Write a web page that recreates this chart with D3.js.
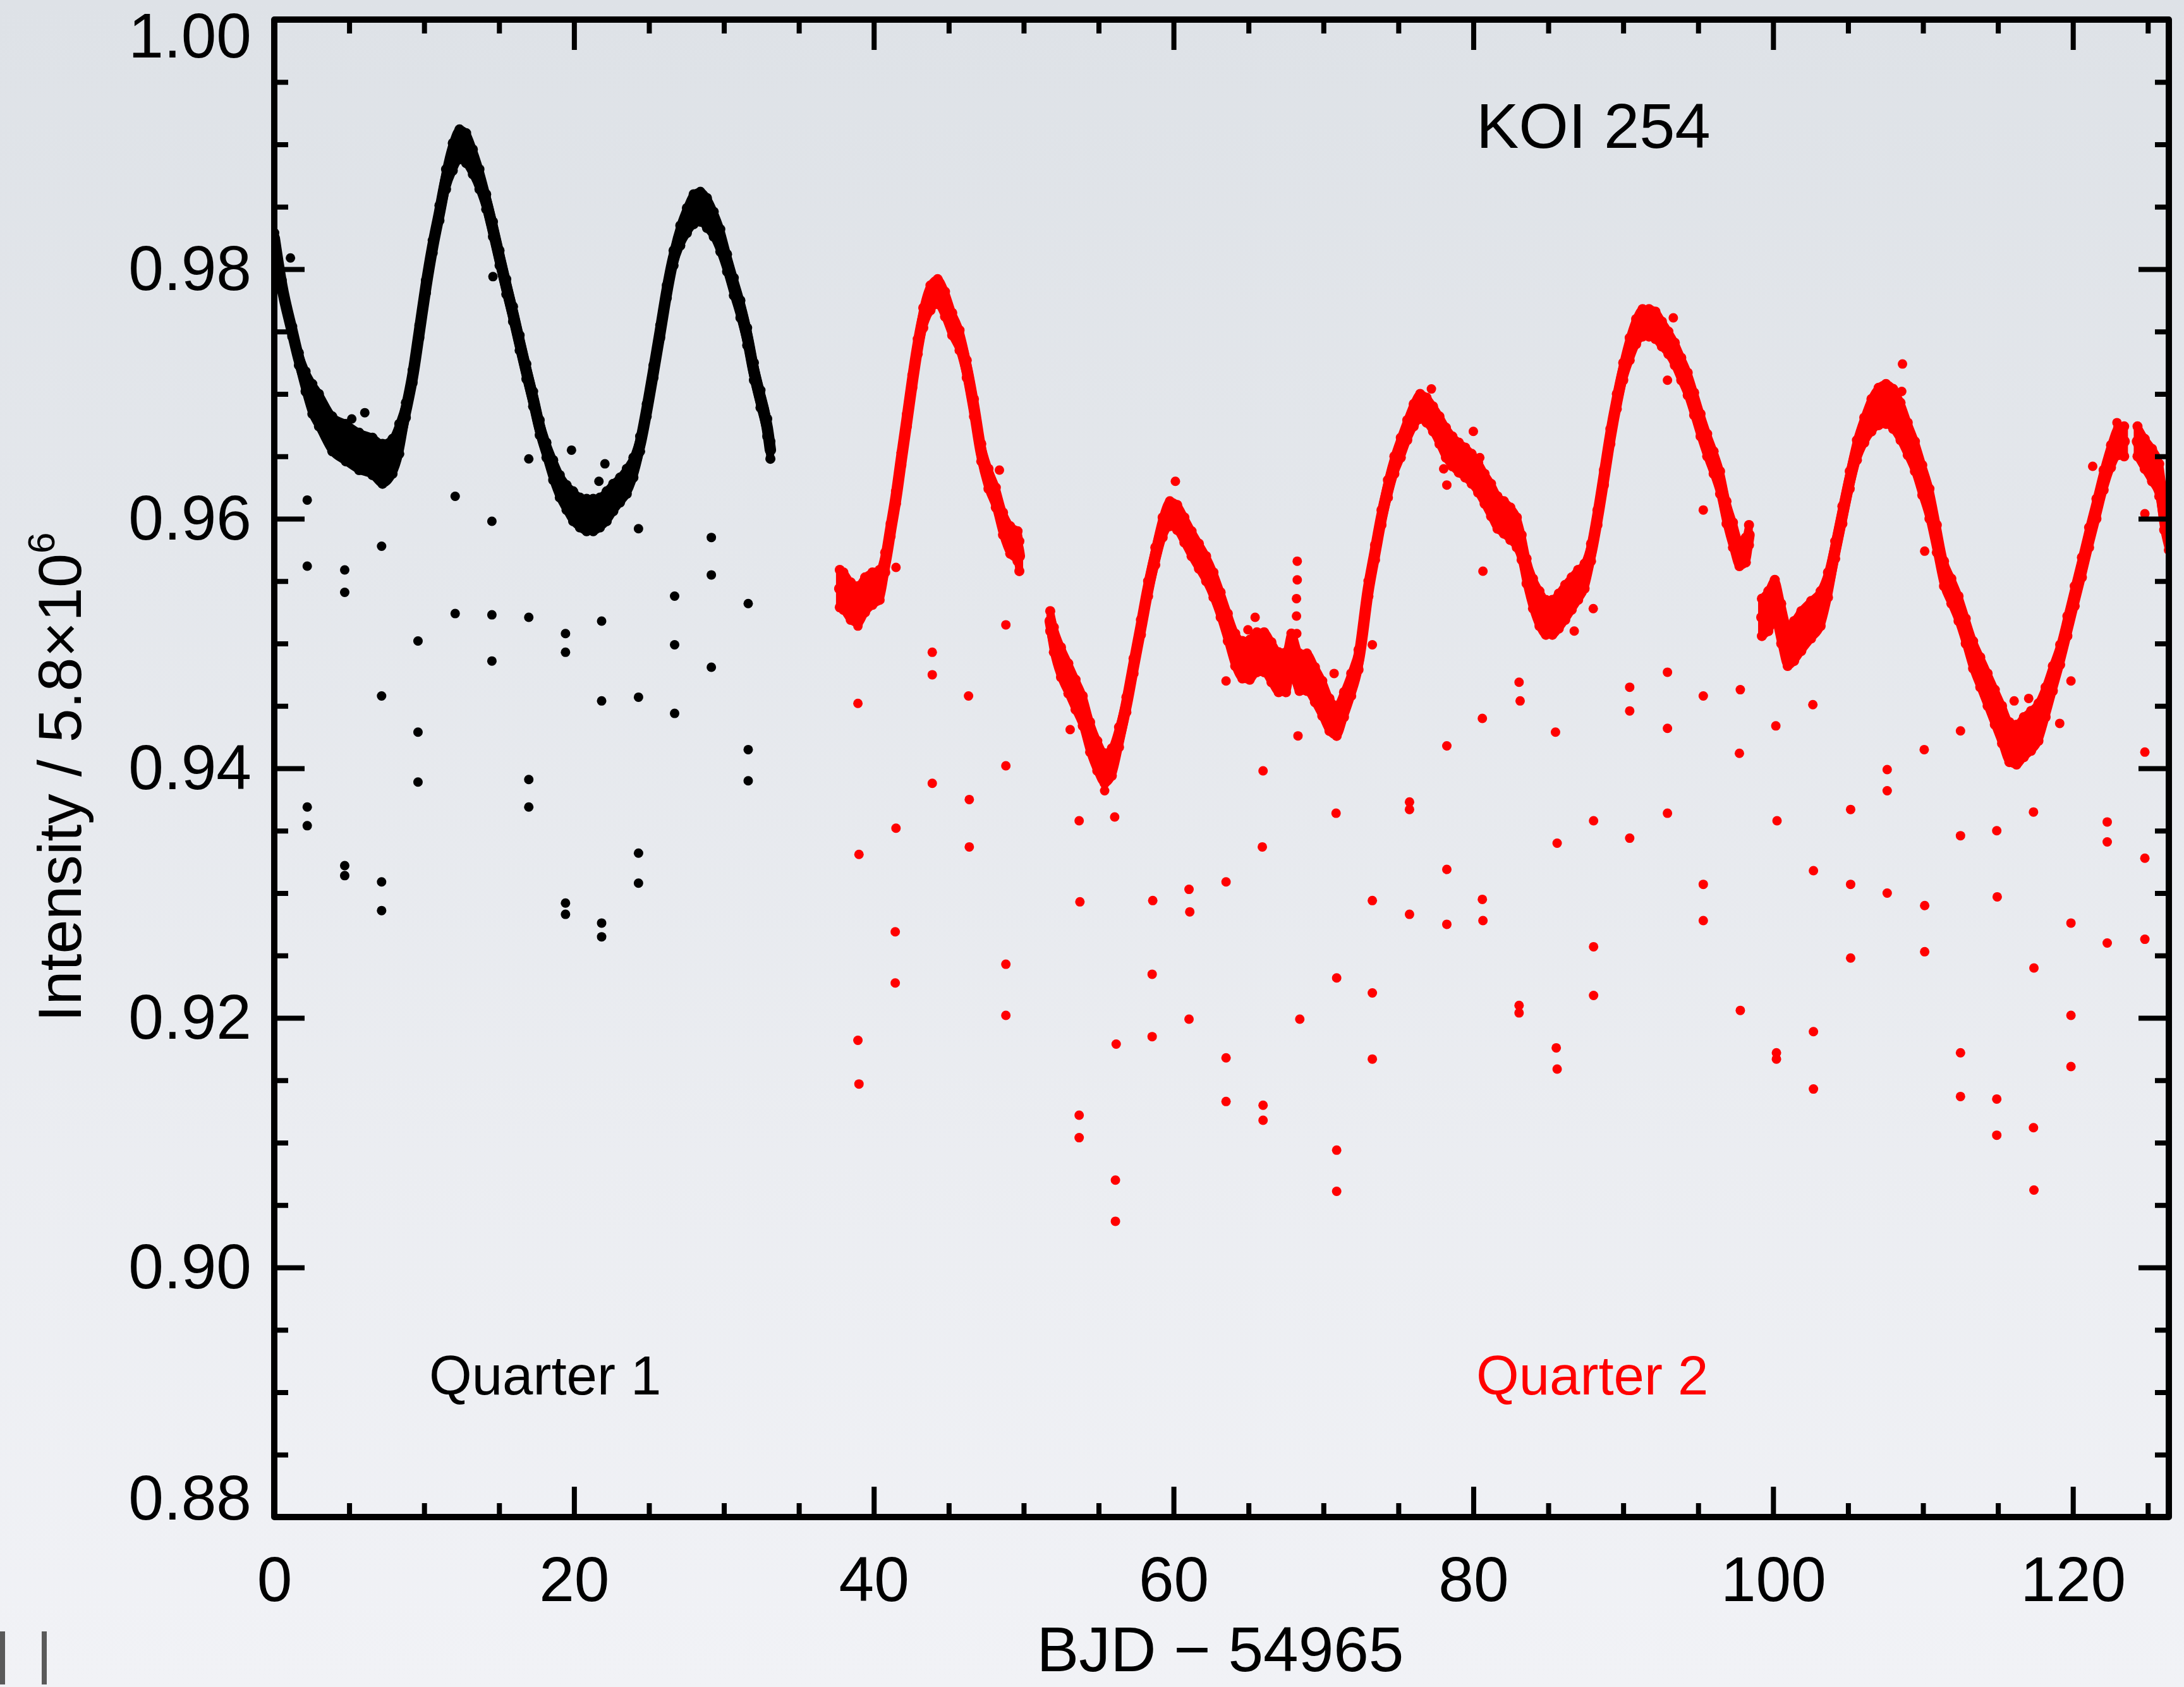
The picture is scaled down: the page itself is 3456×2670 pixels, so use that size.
<!DOCTYPE html>
<html>
<head>
<meta charset="utf-8">
<script src="https://cdn.jsdelivr.net/npm/d3@7"></script>
<style>
  html, body { margin: 0; padding: 0; background: #e8eaee; }
  svg { display: block; }
</style>
</head>
<body>
<svg id="chart" width="3456" height="2670"></svg>
<script>
// ---- Kepler KOI 254 light curve, Quarters 1 and 2 ----

// Quarter 1: band centre, half-width of the point cloud (flux units)
const q1Time = [0.0, 0.5, 1.2, 1.64, 2.09, 2.54, 2.98, 3.87, 4.77, 5.66, 6.55, 7.22, 7.89, 8.34, 8.78,
  9.23, 9.68, 10.12, 10.57, 11.02, 11.46, 11.91, 12.36, 12.8, 13.25, 13.69, 14.14, 14.59, 15.03, 15.48,
  15.93, 16.37, 16.82, 17.27, 17.71, 18.16, 18.61, 19.05, 19.5, 19.94, 20.39, 20.84, 21.28, 21.73, 22.18,
  22.62, 23.07, 23.52, 23.96, 24.41, 24.85, 25.3, 25.75, 26.19, 26.64, 27.09, 27.53, 27.98, 28.43, 28.87,
  29.32, 29.76, 30.21, 30.66, 31.1, 31.55, 32.0, 32.44, 32.89, 33.1];
const q1Flux = [0.9825, 0.9787, 0.975, 0.9728, 0.971, 0.9696, 0.9687, 0.9668, 0.9661, 0.9654, 0.965, 0.9644, 0.965, 0.9664, 0.9687,
  0.9714, 0.975, 0.9786, 0.9818, 0.9845, 0.9872, 0.989, 0.99, 0.9897, 0.9886, 0.9872, 0.9854, 0.9832, 0.9809, 0.9786,
  0.9764, 0.9741, 0.9718, 0.9696, 0.9673, 0.9655, 0.9639, 0.9626, 0.9617, 0.961, 0.9605, 0.9603, 0.9603, 0.9605, 0.961,
  0.9617, 0.9623, 0.963, 0.9641, 0.966, 0.9687, 0.9718, 0.975, 0.9782, 0.9809, 0.9827, 0.9839, 0.9848, 0.985, 0.9845,
  0.9836, 0.9823, 0.9805, 0.9786, 0.9768, 0.9746, 0.9718, 0.9696, 0.9673, 0.9655];
const q1Spread = [0.0004, 0.0004, 0.0004, 0.0005, 0.0008, 0.0012, 0.0013, 0.0014, 0.0015, 0.0015, 0.0015, 0.0016, 0.0014, 0.0012, 0.0006,
  0.0005, 0.0005, 0.0005, 0.0005, 0.0006, 0.0008, 0.0011, 0.0012, 0.0012, 0.0010, 0.0008, 0.0006, 0.0006, 0.0006, 0.0006,
  0.0006, 0.0006, 0.0006, 0.0006, 0.0006, 0.0006, 0.0008, 0.0009, 0.0010, 0.0012, 0.0012, 0.0013, 0.0013, 0.0012, 0.0012,
  0.0011, 0.0010, 0.0010, 0.0008, 0.0006, 0.0005, 0.0005, 0.0005, 0.0005, 0.0006, 0.0008, 0.0010, 0.0012, 0.0012, 0.0012,
  0.0010, 0.0009, 0.0007, 0.0007, 0.0007, 0.0007, 0.0007, 0.0007, 0.0007, 0.0007];

// Quarter 1 isolated low points
const q1OutTime = [2.2, 2.2, 2.2, 2.2, 5.17, 6.04, 4.7, 4.7, 4.7, 4.7, 7.16, 7.16, 7.16, 7.16, 9.59, 9.59, 9.59,
  12.07, 12.07, 14.59, 14.52, 14.52, 14.52, 16.98, 16.98, 16.98, 16.98, 19.43, 19.43, 19.43, 19.43, 19.83,
  21.84, 21.84, 21.84, 21.84, 22.06, 21.66, 24.3, 24.3, 24.3, 24.3, 26.71, 26.71, 26.71, 29.16, 29.16, 29.16,
  31.62, 31.62, 31.62, 1.08];
const q1OutFlux = [0.9615, 0.9562, 0.9369, 0.9354, 0.968, 0.9685, 0.9559, 0.9541, 0.9322, 0.9314, 0.9578, 0.9458, 0.9309, 0.9286, 0.9502, 0.9429, 0.9389,
  0.9618, 0.9524, 0.9794, 0.9598, 0.9523, 0.9486, 0.9648, 0.9521, 0.9391, 0.9369, 0.9508, 0.9493, 0.9292, 0.9283, 0.9655,
  0.9518, 0.9454, 0.9276, 0.9265, 0.9644, 0.963, 0.9592, 0.9457, 0.9332, 0.9308, 0.9538, 0.9499, 0.9444, 0.9585, 0.9555, 0.9481,
  0.9532, 0.9415, 0.939, 0.9809];

// Quarter 2: null entries mark data gaps
const q2Time = [37.73, 37.97, 38.46, 38.94, 39.42, 39.91, 40.39, 40.76, 41.12, 41.48, 41.84, 42.21, 42.57, 42.93, 43.3,
  43.78, 44.26, 44.75, 45.23, 45.72, 46.2, 46.68, 47.17, 47.65, 48.14, 48.62, 49.1, 49.59, 49.71, null,
  51.77, 52.01, 52.49, 52.98, 53.46, 53.94, 54.43, 54.91, 55.4, 55.88, 56.36, 56.85, 57.33, 57.82, 58.3,
  58.78, 59.27, 59.75, 60.24, 60.72, 61.2, 61.69, 62.17, 62.66, 63.14, 63.62, 64.11, 64.59, 65.08, 65.56,
  66.04, 66.53, 67.01, 67.5, 67.86, 68.4, 68.9, 69.43, 69.92, 70.4, 70.88, 71.37, 71.85, 72.34, 73.0,
  73.44, 73.87, 74.3, 74.73, 75.16, 75.59, 76.02, 76.45, 76.88, 77.31, 77.74, 78.17, 78.6, 79.03, 79.46,
  79.89, 80.32, 80.75, 81.18, 81.61, 82.04, 82.47, 82.9, 83.22, 83.55, 83.98, 84.41, 84.84, 85.27, 85.7,
  86.13, 86.56, 86.99, 87.42, 87.85, 88.28, 88.71, 89.14, 89.57, 90.0, 90.43, 90.86, 91.29, 91.72, 92.15,
  92.58, 93.01, 93.44, 93.87, 94.3, 94.73, 95.16, 95.6, 96.03, 96.46, 96.89, 97.32, 97.75, 98.18, 98.39, null,
  99.25, 99.68, 100.11, 100.54, 100.97, 101.4, 101.88, 102.53, 103.17, 103.66, 104.14, 104.62, 105.11, 105.59, 106.08,
  106.56, 107.04, 107.53, 108.01, 108.5, 108.98, 109.46, 109.95, 110.43, 110.92, 111.4, 111.89, 112.37, 112.85, 113.34,
  113.82, 114.31, 114.79, 115.27, 115.76, 116.24, 116.73, 117.21, 117.7, 118.18, 118.66, 119.15, 119.63, 120.12, 120.6,
  121.08, 121.57, 122.05, 122.54, 123.02, 123.42, null,
  124.31, 124.79, 125.28, 125.76, 126.09, 126.4];
const q2Flux = [0.9544, 0.9542, 0.9534, 0.9531, 0.9539, 0.9544, 0.9547, 0.9565, 0.9591, 0.9617, 0.9648, 0.9679, 0.971, 0.9738, 0.9761,
  0.9777, 0.9782, 0.9772, 0.9756, 0.9743, 0.972, 0.9689, 0.9653, 0.9632, 0.9617, 0.9596, 0.9583, 0.9578, 0.957, null,
  0.9518, 0.9503, 0.9485, 0.9472, 0.9459, 0.9446, 0.9425, 0.941, 0.94, 0.9405, 0.9425, 0.9451, 0.9482, 0.9513, 0.9544,
  0.957, 0.9593, 0.9604, 0.9601, 0.9591, 0.958, 0.957, 0.956, 0.9547, 0.9531, 0.9513, 0.9495, 0.9487, 0.9487, 0.9493,
  0.9493, 0.9485, 0.9477, 0.9477, 0.9493, 0.9477, 0.9477, 0.9467, 0.9456, 0.9443, 0.9438, 0.9451, 0.9467, 0.9487, 0.9544,
  0.9573, 0.9601, 0.9624, 0.9643, 0.9657, 0.9671, 0.9683, 0.969, 0.9687, 0.968, 0.9671, 0.9661, 0.9654, 0.9649, 0.9645,
  0.964, 0.9633, 0.9624, 0.9615, 0.9605, 0.9601, 0.9596, 0.9589, 0.9577, 0.9558, 0.954, 0.9528, 0.9521, 0.9521, 0.9526,
  0.9533, 0.954, 0.9547, 0.9554, 0.9573, 0.9601, 0.9633, 0.9666, 0.9694, 0.9718, 0.9736, 0.975, 0.9757, 0.9757, 0.9755,
  0.9748, 0.9741, 0.9732, 0.972, 0.9708, 0.9692, 0.9675, 0.9659, 0.9645, 0.9629, 0.9605, 0.9587, 0.9572, 0.9575, 0.9587, null,
  0.9521, 0.9526, 0.9535, 0.9516, 0.9498, 0.9502, 0.951, 0.9519, 0.9528, 0.9547, 0.9575, 0.9603, 0.9631, 0.9655, 0.9671,
  0.9683, 0.969, 0.9692, 0.9688, 0.9678, 0.9664, 0.965, 0.9631, 0.9612, 0.9584, 0.9556, 0.9542, 0.9528, 0.951, 0.9491,
  0.9477, 0.9463, 0.9449, 0.9435, 0.9421, 0.9419, 0.9425, 0.943, 0.9437, 0.9453, 0.9472, 0.9491, 0.9514, 0.9538, 0.9561,
  0.9585, 0.9608, 0.9631, 0.965, 0.9662, 0.9662, null,
  0.9662, 0.9652, 0.9643, 0.9631, 0.9603, 0.9585];
const q2Spread = [0.0015, 0.0015, 0.0015, 0.0015, 0.0014, 0.0013, 0.0012, 0.0008, 0.0005, 0.0005, 0.0005, 0.0005, 0.0005, 0.0006, 0.0008,
  0.0010, 0.0010, 0.0010, 0.0009, 0.0008, 0.0007, 0.0007, 0.0007, 0.0008, 0.0008, 0.0009, 0.0011, 0.0012, 0.0012, null,
  0.0008, 0.0010, 0.0012, 0.0012, 0.0012, 0.0012, 0.0012, 0.0012, 0.0012, 0.0011, 0.0008, 0.0006, 0.0006, 0.0006, 0.0006,
  0.0007, 0.0008, 0.0010, 0.0010, 0.0010, 0.0010, 0.0010, 0.0010, 0.0010, 0.0010, 0.0011, 0.0013, 0.0015, 0.0016, 0.0016,
  0.0016, 0.0016, 0.0016, 0.0016, 0.0015, 0.0015, 0.0015, 0.0014, 0.0014, 0.0013, 0.0012, 0.0010, 0.0009, 0.0008, 0.0006,
  0.0006, 0.0006, 0.0007, 0.0007, 0.0008, 0.0008, 0.0009, 0.0010, 0.0010, 0.0010, 0.0011, 0.0012, 0.0012, 0.0012, 0.0012,
  0.0012, 0.0012, 0.0012, 0.0013, 0.0013, 0.0013, 0.0013, 0.0012, 0.0010, 0.0010, 0.0012, 0.0014, 0.0014, 0.0014, 0.0014,
  0.0014, 0.0013, 0.0012, 0.0010, 0.0007, 0.0006, 0.0006, 0.0006, 0.0006, 0.0007, 0.0009, 0.0010, 0.0011, 0.0011, 0.0011,
  0.0010, 0.0009, 0.0009, 0.0009, 0.0009, 0.0009, 0.0009, 0.0009, 0.0009, 0.0009, 0.0009, 0.0010, 0.0010, 0.0010, 0.0008, null,
  0.0015, 0.0016, 0.0016, 0.0016, 0.0016, 0.0016, 0.0016, 0.0015, 0.0014, 0.0010, 0.0007, 0.0007, 0.0007, 0.0008, 0.0010,
  0.0013, 0.0015, 0.0016, 0.0016, 0.0015, 0.0013, 0.0012, 0.0012, 0.0012, 0.0011, 0.0010, 0.0010, 0.0010, 0.0010, 0.0011,
  0.0012, 0.0013, 0.0014, 0.0015, 0.0016, 0.0016, 0.0016, 0.0016, 0.0015, 0.0012, 0.0010, 0.0008, 0.0008, 0.0008, 0.0008,
  0.0008, 0.0008, 0.0008, 0.0009, 0.0011, 0.0012, null,
  0.0012, 0.0012, 0.0013, 0.0013, 0.0012, 0.0010];

// Quarter 2 isolated low points
const q2OutTime = [38.94, 38.94, 39.01, 38.94, 39.01, 41.48, 41.48, 41.43, 41.43, 43.9, 43.9, 43.9, 46.32, 46.37, 46.37,
  48.38, 48.81, 48.81, 48.81, 48.81, 53.1, 53.7, 53.75, 53.7, 53.7, 55.4, 56.07, 56.17, 56.12, 56.12,
  60.12, 58.61, 58.57, 58.57, 61.03, 61.08, 61.03, 63.5, 63.5, 63.5, 63.5, 64.96, 65.44, 65.97, 65.92, 65.97, 65.97,
  68.25, 68.25, 68.2, 68.2, 68.22, 68.3, 68.42, 70.71, 70.84, 70.88, 70.88, 70.88, 73.26, 73.26, 73.26, 73.26,
  75.74, 75.74, 75.74, 77.2, 78.02, 78.23, 80.0, 80.43, 80.64, 78.23, 78.23, 78.23, 80.6, 80.6, 80.64,
  83.05, 83.12, 83.05, 83.05, 85.48, 85.59, 85.53, 85.59, 86.73, 88.0, 88.02, 88.02, 88.02,
  90.43, 90.43, 90.43, 92.95, 92.95, 92.95, 92.95, 93.34, 95.34, 95.34, 95.34, 95.34, 97.81, 97.75, 97.81,
  100.18, 100.26, 100.22, 100.22, 102.65, 102.69, 102.69, 102.69, 105.17, 105.17, 105.17,
  107.61, 107.61, 107.61, 108.63, 108.58, 110.11, 110.08, 110.11, 110.11, 112.5, 112.5, 112.5, 112.5,
  114.92, 114.95, 114.92, 114.92, 116.08, 117.05, 117.37, 117.4, 117.37, 117.4,
  119.12, 119.87, 119.87, 119.87, 119.87, 121.32, 122.29, 122.29, 122.29, 122.94, 124.8, 124.8, 124.8, 124.8];
const q2OutFlux = [0.9514, 0.9452, 0.9331, 0.9182, 0.9147, 0.9561, 0.9352, 0.9269, 0.9228, 0.9493, 0.9475, 0.9388, 0.9458, 0.9375, 0.9337,
  0.9639, 0.9515, 0.9402, 0.9243, 0.9202, 0.9431, 0.9358, 0.9293, 0.9122, 0.9104, 0.9382, 0.9361, 0.9179, 0.907, 0.9037,
  0.963, 0.9294, 0.9235, 0.9185, 0.9303, 0.9285, 0.9199, 0.947, 0.9309, 0.9168, 0.9133, 0.9511, 0.9521, 0.9398, 0.9337, 0.913, 0.9118,
  0.9566, 0.9551, 0.9536, 0.9522, 0.9508, 0.9426, 0.9199, 0.9476, 0.9364, 0.9232, 0.9094, 0.9061, 0.9499, 0.9294, 0.922, 0.9167,
  0.9373, 0.9367, 0.9283, 0.9704, 0.964, 0.9627, 0.967, 0.9649, 0.9558, 0.9418, 0.9319, 0.9275, 0.944, 0.9295, 0.9278,
  0.9469, 0.9454, 0.921, 0.9204, 0.9429, 0.934, 0.9176, 0.9159, 0.951, 0.9528, 0.9358, 0.9257, 0.9218,
  0.9465, 0.9446, 0.9344, 0.9477, 0.9432, 0.9364, 0.9711, 0.9761, 0.9607, 0.9458, 0.9307, 0.9278, 0.9463, 0.9412, 0.9206,
  0.9434, 0.9358, 0.9172, 0.9167, 0.9451, 0.9318, 0.9189, 0.9143, 0.9367, 0.9307, 0.9248,
  0.9399, 0.9382, 0.93, 0.9724, 0.9702, 0.9574, 0.9415, 0.929, 0.9253, 0.943, 0.9346, 0.9172, 0.9137,
  0.935, 0.9297, 0.9135, 0.9106, 0.9454, 0.9456, 0.9365, 0.924, 0.9112, 0.9062,
  0.9436, 0.947, 0.9276, 0.9202, 0.9161, 0.9642, 0.9357, 0.9341, 0.926, 0.9677, 0.9604, 0.9413, 0.9328, 0.9263];

// Axis ticks and annotations
const xDomain = [0, 126.4];
const yDomain = [0.88, 1.0];
const xMajorTicks = [0, 20, 40, 60, 80, 100, 120];
const yMajorTicks = [0.88, 0.90, 0.92, 0.94, 0.96, 0.98, 1.00];
const xLabel = "BJD \u2212 54965";
const yLabel = "Intensity / 5.8\u00d710";
const yLabelExp = "6";
const starName = "KOI 254";
const quarterNames = ["Quarter 1", "Quarter 2"];
const seriesColors = ["#000000", "#ff0000"];

// ---- layout ----
const W = 3456, H = 2670;
const plot = { left: 434, right: 3432, top: 31, bottom: 2401 };
const FONT = "'Liberation Sans', Arial, Helvetica, sans-serif";

const svg = d3.select("#chart");
const defs = svg.append("defs");

const bg = defs.append("linearGradient").attr("id", "bg")
  .attr("x1", 0).attr("y1", 0).attr("x2", 0).attr("y2", 1);
bg.append("stop").attr("offset", 0).attr("stop-color", "#dee2e7");
bg.append("stop").attr("offset", 1).attr("stop-color", "#f1f2f6");
svg.append("rect").attr("width", W).attr("height", H).attr("fill", "url(#bg)");

defs.append("clipPath").attr("id", "plotClip").append("rect")
  .attr("x", plot.left).attr("y", plot.top)
  .attr("width", plot.right - plot.left).attr("height", plot.bottom - plot.top);

const x = d3.scaleLinear().domain(xDomain).range([plot.left, plot.right]);
const y = d3.scaleLinear().domain(yDomain).range([plot.bottom, plot.top]);

const dataLayer = svg.append("g").attr("clip-path", "url(#plotClip)");

function drawBand(T, F, S, color) {
  const rows = T.map((t, i) => t == null ? null : { t, v: F[i], s: S[i] });
  const g = dataLayer.append("g");
  const area = d3.area().defined(d => d)
    .x(d => x(d.t)).y0(d => y(d.v - d.s)).y1(d => y(d.v + d.s))
    .curve(d3.curveMonotoneX);
  const line = d3.line().defined(d => d)
    .x(d => x(d.t)).y(d => y(d.v))
    .curve(d3.curveMonotoneX);
  g.append("path").attr("d", area(rows))
    .attr("fill", color).attr("stroke", color)
    .attr("stroke-width", 12).attr("stroke-linejoin", "round");
  g.append("path").attr("d", line(rows))
    .attr("fill", "none").attr("stroke", color)
    .attr("stroke-width", 18).attr("stroke-linejoin", "round").attr("stroke-linecap", "round");
  const pts = rows.filter(d => d);
  g.selectAll("circle.hi").data(pts).join("circle").attr("class", "hi")
    .attr("cx", d => x(d.t)).attr("cy", d => y(d.v + d.s)).attr("r", 8).attr("fill", color);
  g.selectAll("circle.lo").data(pts).join("circle").attr("class", "lo")
    .attr("cx", d => x(d.t)).attr("cy", d => y(d.v - d.s)).attr("r", 8).attr("fill", color);
}

function drawPoints(T, F, color) {
  dataLayer.append("g").selectAll("circle").data(T.map((t, i) => ({ t, v: F[i] })))
    .join("circle")
    .attr("cx", d => x(d.t)).attr("cy", d => y(d.v))
    .attr("r", 7.5).attr("fill", color);
}

drawBand(q1Time, q1Flux, q1Spread, seriesColors[0]);
drawPoints(q1OutTime, q1OutFlux, seriesColors[0]);
drawBand(q2Time, q2Flux, q2Spread, seriesColors[1]);
drawPoints(q2OutTime, q2OutFlux, seriesColors[1]);

// ---- axes: ticks point inward on all four sides ----
const xMinorTicks = d3.range(0, 126.4, 5).filter(v => v % 20 !== 0);
const yMinorTicks = d3.range(0, 25).map(i => +(0.88 + i * 0.005).toFixed(3))
  .filter(v => !yMajorTicks.some(m => Math.abs(m - v) < 1e-9));

const MAJOR = 48, MINOR = 22;

function styleAxis(g) {
  g.select(".domain").remove();
  g.selectAll(".tick line").attr("stroke", "#000").attr("stroke-width", 8);
  g.selectAll(".tick text").attr("font-family", FONT).attr("font-size", 100).attr("fill", "#000");
}

// bottom
svg.append("g").attr("transform", `translate(0,${plot.bottom})`)
  .call(d3.axisBottom(x).tickValues(xMajorTicks).tickSize(-MAJOR).tickPadding(62).tickFormat(d3.format("d")))
  .call(styleAxis);
svg.append("g").attr("transform", `translate(0,${plot.bottom})`)
  .call(d3.axisBottom(x).tickValues(xMinorTicks).tickSize(-MINOR).tickFormat(""))
  .call(styleAxis);
// top
svg.append("g").attr("transform", `translate(0,${plot.top})`)
  .call(d3.axisTop(x).tickValues(xMajorTicks).tickSize(-MAJOR).tickFormat(""))
  .call(styleAxis);
svg.append("g").attr("transform", `translate(0,${plot.top})`)
  .call(d3.axisTop(x).tickValues(xMinorTicks).tickSize(-MINOR).tickFormat(""))
  .call(styleAxis);
// left
const leftAxis = svg.append("g").attr("transform", `translate(${plot.left},0)`)
  .call(d3.axisLeft(y).tickValues(yMajorTicks).tickSize(-MAJOR).tickPadding(36).tickFormat(d3.format(".2f")))
  .call(styleAxis);
svg.append("g").attr("transform", `translate(${plot.left},0)`)
  .call(d3.axisLeft(y).tickValues(yMinorTicks).tickSize(-MINOR).tickFormat(""))
  .call(styleAxis);
// end labels sit inside the frame's vertical extent
leftAxis.selectAll(".tick text").filter(d => Math.abs(d - 1.0) < 1e-9).attr("y", 27);
leftAxis.selectAll(".tick text").filter(d => Math.abs(d - 0.88) < 1e-9).attr("y", -29);
// right
svg.append("g").attr("transform", `translate(${plot.right},0)`)
  .call(d3.axisRight(y).tickValues(yMajorTicks).tickSize(-MAJOR).tickFormat(""))
  .call(styleAxis);
svg.append("g").attr("transform", `translate(${plot.right},0)`)
  .call(d3.axisRight(y).tickValues(yMinorTicks).tickSize(-MINOR).tickFormat(""))
  .call(styleAxis);

// frame
svg.append("rect")
  .attr("x", plot.left).attr("y", plot.top)
  .attr("width", plot.right - plot.left).attr("height", plot.bottom - plot.top)
  .attr("fill", "none").attr("stroke", "#000").attr("stroke-width", 10)
  .attr("stroke-linejoin", "round");

// ---- titles and annotations ----
svg.append("text")
  .attr("x", 1931).attr("y", 2645)
  .attr("text-anchor", "middle")
  .attr("font-family", FONT).attr("font-size", 100).attr("fill", "#000")
  .text(xLabel);

const yt = svg.append("text")
  .attr("transform", "translate(128,1230) rotate(-90)")
  .attr("text-anchor", "middle")
  .attr("font-family", FONT).attr("font-size", 97).attr("fill", "#000");
yt.append("tspan").text(yLabel);
yt.append("tspan").attr("font-size", 60).attr("dy", -42).text(yLabelExp);

svg.append("text")
  .attr("x", 2336).attr("y", 234)
  .attr("font-family", FONT).attr("font-size", 101).attr("fill", "#000")
  .text(starName);

svg.append("text")
  .attr("x", 679).attr("y", 2207)
  .attr("font-family", FONT).attr("font-size", 87).attr("fill", seriesColors[0])
  .text(quarterNames[0]);
svg.append("text")
  .attr("x", 2336).attr("y", 2207)
  .attr("font-family", FONT).attr("font-size", 87).attr("fill", seriesColors[1])
  .text(quarterNames[1]);

// slide controls in the lower-left corner
svg.append("g").selectAll("rect").data([0, 66]).join("rect")
  .attr("x", d => d).attr("y", 2582).attr("width", 8).attr("height", 84)
  .attr("fill", "#5a5a5a");
</script>
</body>
</html>
